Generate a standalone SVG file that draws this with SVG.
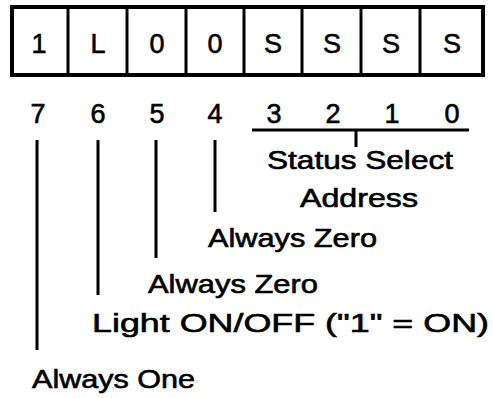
<svg xmlns="http://www.w3.org/2000/svg" width="493" height="398" viewBox="0 0 493 398">
<style>
text{font-family:"Liberation Sans","DejaVu Sans",sans-serif;fill:#000;stroke:#000;stroke-width:0.6}
.cell{font-size:27px;text-anchor:middle}
.bit{font-size:27px;text-anchor:middle}
.lbl{font-size:25px}
.ln{stroke:#000;stroke-width:3;fill:none}
</style>
<rect x="0" y="0" width="493" height="398" fill="#fff"/>
<g id="register">
<rect x="12" y="7" width="471" height="68" fill="#fff" stroke="#000" stroke-width="4"/>
<g class="ln" stroke-width="2">
<line x1="68" y1="7" x2="68" y2="75"/>
<line x1="127" y1="7" x2="127" y2="75"/>
<line x1="186" y1="7" x2="186" y2="75"/>
<line x1="244" y1="7" x2="244" y2="75"/>
<line x1="302" y1="7" x2="302" y2="75"/>
<line x1="361" y1="7" x2="361" y2="75"/>
<line x1="420" y1="7" x2="420" y2="75"/>
</g>
<text class="cell" x="39" y="53">1</text>
<text class="cell" x="98" y="53">L</text>
<text class="cell" x="157" y="53">0</text>
<text class="cell" x="215" y="53">0</text>
<text class="cell" x="273" y="53">S</text>
<text class="cell" x="332" y="53">S</text>
<text class="cell" x="391" y="53">S</text>
<text class="cell" x="452" y="53">S</text>
</g>
<g id="bits">
<text class="bit" x="38" y="123">7</text>
<text class="bit" x="98" y="123">6</text>
<text class="bit" x="157" y="123">5</text>
<text class="bit" x="215" y="123">4</text>
<text class="bit" x="274" y="123">3</text>
<text class="bit" x="333" y="123">2</text>
<text class="bit" x="392" y="123">1</text>
<text class="bit" x="452" y="123">0</text>
</g>
<g id="connectors" class="ln">
<line x1="37" y1="140" x2="37" y2="350"/>
<line x1="98" y1="140" x2="98" y2="295"/>
<line x1="156" y1="140" x2="156" y2="258"/>
<line x1="215" y1="140" x2="215" y2="212"/>
<line x1="252" y1="130" x2="469" y2="130" stroke-width="3"/>
<line x1="356" y1="130" x2="356" y2="147"/>
</g>
<g id="labels">
<text class="lbl" x="267" y="169" textLength="186" lengthAdjust="spacingAndGlyphs">Status Select</text>
<text class="lbl" x="300" y="207" textLength="118" lengthAdjust="spacingAndGlyphs">Address</text>
<text class="lbl" x="208" y="247" textLength="169" lengthAdjust="spacingAndGlyphs">Always Zero</text>
<text class="lbl" x="148" y="293" textLength="170" lengthAdjust="spacingAndGlyphs">Always Zero</text>
<text class="lbl" x="92" y="332" textLength="397" lengthAdjust="spacingAndGlyphs">Light ON/OFF ("1" = ON)</text>
<text class="lbl" x="32" y="388" textLength="163" lengthAdjust="spacingAndGlyphs">Always One</text>
</g>
</svg>
